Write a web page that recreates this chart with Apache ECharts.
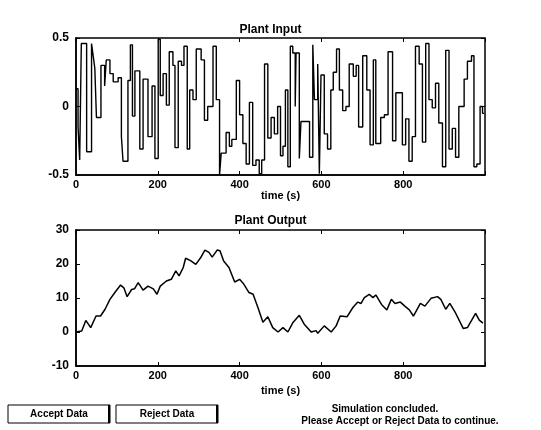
<!DOCTYPE html>
<html>
<head>
<meta charset="utf-8">
<script src="https://cdn.jsdelivr.net/npm/echarts@6/dist/echarts.min.js"></script>
<style>
  html, body { margin: 0; padding: 0; background: #fff; }
  #chart { width: 541px; height: 430px; }
</style>
</head>
<body>
<div id="chart"></div>
<script>
// plant input: random step signal (time where each level starts, level)
const inputTimes = [
  0, 5, 9, 13, 26, 38, 42, 46, 50, 61,
  70, 74, 83, 91, 103, 111, 115, 127, 133, 138,
  144, 156, 164, 176, 186, 193, 201, 206, 213, 221,
  228, 237, 242, 250, 258, 264, 272, 278, 286, 294,
  306, 314, 322, 335, 343, 351, 355, 367, 375, 381,
  392, 400, 408, 416, 424, 432, 440, 448, 454, 461,
  469, 477, 485, 493, 500, 506, 512, 518, 524, 530,
  536, 538, 546, 550, 571, 579, 583, 591, 595, 599,
  607, 615, 623, 629, 637, 644, 652, 660, 668, 678,
  685, 691, 701, 711, 719, 727, 733, 745, 754, 763,
  774, 782, 798, 806, 814, 822, 830, 839, 847, 855,
  863, 871, 879, 887, 896, 904, 912, 920, 928, 936,
  949, 957, 967, 973, 980, 988, 994, 998
]
const inputValues = [
  0.13, -0.15, -0.39, 0.46, -0.33, 0.46, 0.37, 0.28, -0.08, 0.30,
  0.15, 0.34, 0.24, 0.18, 0.21, -0.22, -0.40, 0.19, 0.45, -0.07,
  0.26, -0.31, 0.20, -0.22, 0.15, -0.38, 0.49, 0.08, 0.24, 0.01,
  0.40, 0.30, -0.30, 0.33, 0.30, 0.44, -0.31, 0.12, 0.05, 0.42,
  0.34, -0.10, 0.00, 0.44, 0.05, -0.50, -0.34, -0.19, -0.29, -0.24,
  0.19, -0.06, -0.27, -0.42, 0.03, -0.43, -0.39, -0.49, -0.39, 0.31,
  -0.23, -0.08, -0.20, 0.00, -0.36, -0.29, 0.12, -0.44, 0.44, 0.39,
  0.00, 0.39, -0.38, -0.11, -0.37, 0.45, 0.05, 0.31, -0.49, 0.23,
  -0.20, -0.31, 0.12, 0.25, 0.42, 0.12, -0.03, 0.00, 0.31, 0.22,
  0.30, -0.15, 0.37, 0.12, -0.28, 0.34, -0.27, -0.08, -0.06, 0.40,
  -0.25, 0.10, -0.28, -0.09, -0.40, -0.22, 0.44, 0.31, -0.26, 0.46,
  0.05, -0.01, 0.17, -0.12, -0.44, 0.41, -0.31, -0.16, -0.37, 0.00,
  0.20, 0.33, 0.37, -0.44, -0.42, 0.00, -0.05, -0.05
]

// plant output
const outputTimes = [
  0, 14, 24, 36, 49, 60, 71, 83, 95, 109,
  117, 125, 136, 143, 152, 164, 176, 189, 198, 206,
  221, 233, 244, 252, 262, 268, 280, 293, 305, 315,
  325, 333, 345, 352, 361, 374, 388, 400, 409, 423,
  433, 445, 457, 469, 481, 494, 506, 518, 530, 546,
  558, 575, 587, 591, 607, 624, 636, 646, 663, 677,
  689, 697, 705, 717, 726, 733, 747, 760, 771, 780,
  793, 804, 815, 825, 842, 853, 868, 884, 892, 904,
  914, 928, 947, 957, 977, 986, 995
]
const outputValues = [
  0, 0.3, 3.4, 1.3, 4.7, 4.7, 6.7, 9.6, 11.6, 13.8,
  13, 10.4, 12.5, 12.7, 14.5, 12.3, 13.5, 12.7, 11.1, 13.5,
  15, 15.5, 18, 16.5, 18.9, 21.7, 21, 19.9, 21.9, 24.1,
  23.4, 22, 24.1, 23.9, 20.9, 19, 14.7, 15.5, 14.3, 11.6,
  11.1, 7.1, 2.9, 4.5, 1.3, 0, 1.3, 0, 2.7, 4.9,
  2.3, 0, 0.4, -0.4, 1.8, 0, 1.8, 4.7, 4.5, 7.2,
  8.8, 8.4, 10.1, 11.1, 10.1, 10.9, 8.1, 6.5, 9.6, 8.4,
  8.8, 7.6, 6.5, 4.7, 8.4, 7.6, 9.9, 10.4, 9.6, 6.7,
  8.4, 5.6, 1, 1.3, 5.5, 3.5, 2.6
]

const timeTicks = [0, 200, 400, 600, 800]
const inputTicks = [-0.5, 0, 0.5]
const outputTicks = [-10, 0, 10, 20, 30]

const font = 'Liberation Sans, Arial, sans-serif'
const lbl = { color: '#000', fontFamily: font, fontWeight: 'bold', fontSize: 11 }

function timeAxis(gridIndex, nameGap) {
  return {
    type: 'value', gridIndex: gridIndex, min: 0, max: 1000, interval: 200,
    name: 'time (s)', nameLocation: 'middle', nameGap: nameGap,
    nameTextStyle: { color: '#000', fontFamily: font, fontWeight: 'bold', fontSize: 11 },
    axisLine: { onZero: false, lineStyle: { color: '#000', width: 1.5 } },
    axisTick: { inside: true, length: 4, lineStyle: { color: '#000' } },
    axisLabel: Object.assign({ margin: 4, formatter: v => timeTicks.indexOf(v) >= 0 ? String(v) : '' }, lbl),
    splitLine: { show: false }
  }
}
function topAxis(gridIndex) {
  return {
    type: 'value', gridIndex: gridIndex, position: 'top', min: 0, max: 1000, interval: 200,
    axisLine: { show: false, onZero: false },
    axisTick: { inside: true, length: 4, lineStyle: { color: '#000' } },
    axisLabel: { show: false }, splitLine: { show: false }
  }
}
function valAxis(gridIndex, ticks, right) {
  const step = ticks[1] - ticks[0]
  return {
    type: 'value', gridIndex: gridIndex, position: right ? 'right' : 'left',
    min: ticks[0], max: ticks[ticks.length - 1], interval: step,
    axisLine: { show: !right, onZero: false, lineStyle: { color: '#000', width: 1.5 } },
    axisTick: { inside: true, length: 4, lineStyle: { color: '#000' } },
    axisLabel: right ? { show: false } : Object.assign({ margin: 7 }, lbl, { fontSize: 12 }),
    splitLine: { show: false }
  }
}

const inputData = inputTimes.map((t, i) => [t, inputValues[i]])
const outputData = outputTimes.map((t, i) => [t, outputValues[i]])

const chart = echarts.init(document.getElementById('chart'))
chart.setOption({
  backgroundColor: '#fff',
  animation: false,
  title: [
    { text: 'Plant Input', left: 'center', top: 19,
      textStyle: { color: '#000', fontFamily: font, fontWeight: 'bold', fontSize: 12 } },
    { text: 'Plant Output', left: 'center', top: 210,
      textStyle: { color: '#000', fontFamily: font, fontWeight: 'bold', fontSize: 12 } }
  ],
  grid: [
    { left: 76, right: 56, top: 38, height: 137, show: true, borderColor: '#000', borderWidth: 1.5 },
    { left: 76, right: 56, top: 230, height: 136, show: true, borderColor: '#000', borderWidth: 1.5 }
  ],
  xAxis: [timeAxis(0, 14), topAxis(0), timeAxis(1, 19), topAxis(1)],
  yAxis: [valAxis(0, inputTicks, false), valAxis(0, inputTicks, true),
          valAxis(1, outputTicks, false), valAxis(1, outputTicks, true)],
  series: [
    { type: 'line', xAxisIndex: 0, yAxisIndex: 0, step: 'end', showSymbol: false,
      lineStyle: { color: '#000', width: 1.4 }, data: inputData },
    { type: 'line', xAxisIndex: 2, yAxisIndex: 2, showSymbol: false,
      lineStyle: { color: '#000', width: 1.5 }, data: outputData }
  ],
  graphic: [
    { type: 'rect', shape: { x: 8, y: 405, width: 102, height: 18 },
      style: { fill: '#fff', stroke: '#000', lineWidth: 1 } },
    { type: 'line', shape: { x1: 109, y1: 405, x2: 109, y2: 423 }, style: { stroke: '#000', lineWidth: 2 } },
    { type: 'text', x: 59, y: 414,
      style: { text: 'Accept Data', fill: '#000', font: 'bold 10px ' + font, align: 'center', verticalAlign: 'middle' } },
    { type: 'rect', shape: { x: 116, y: 405, width: 102, height: 18 },
      style: { fill: '#fff', stroke: '#000', lineWidth: 1 } },
    { type: 'line', shape: { x1: 217, y1: 405, x2: 217, y2: 423 }, style: { stroke: '#000', lineWidth: 2 } },
    { type: 'text', x: 167, y: 414,
      style: { text: 'Reject Data', fill: '#000', font: 'bold 10px ' + font, align: 'center', verticalAlign: 'middle' } },
    { type: 'text', x: 385, y: 409,
      style: { text: 'Simulation concluded.', fill: '#000', font: 'bold 10px ' + font, align: 'center', verticalAlign: 'middle' } },
    { type: 'text', x: 400, y: 421,
      style: { text: 'Please Accept or Reject Data to continue.', fill: '#000', font: 'bold 10px ' + font, align: 'center', verticalAlign: 'middle' } }
  ]
})
</script>
</body>
</html>
